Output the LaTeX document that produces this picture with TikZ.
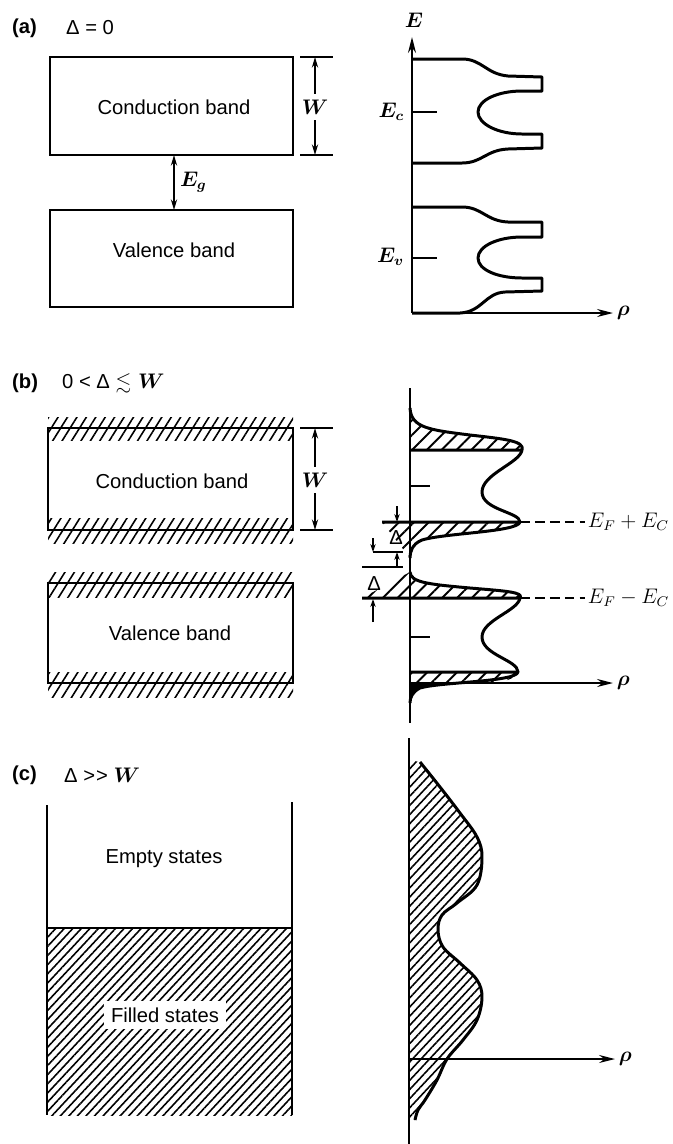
\documentclass[tikz,border=0pt]{standalone}
\usepackage{fontspec}
\setmainfont{Liberation Sans}
\usepackage{amssymb}
\usetikzlibrary{arrows.meta,patterns.meta}

\begin{document}
\begin{tikzpicture}[x=0.02cm, y=-0.02cm,
  font=\fontsize{11.5}{13}\selectfont,
  mlabel/.style={font=\fontsize{11.5}{13}\selectfont\boldmath},
  panel/.style={anchor=west, font=\fontsize{11.5}{13}\selectfont\bfseries},
  band/.style={line width=1.3pt},
  curve/.style={line width=1.7pt, line join=round},
  dimline/.style={line width=1pt},
  axis/.style={line width=1.3pt, -{Stealth[length=9pt,width=4.5pt]}},
  dimtip/.style={line width=1pt, -{Stealth[length=6pt,width=3.5pt]}},
  smalltip/.style={line width=1pt, -{Stealth[length=4.5pt,width=3pt]}},
  dimboth/.style={line width=1pt, {Stealth[length=6pt,width=3.5pt]}-{Stealth[length=6pt,width=3.5pt]}},
  edgehatch/.style={pattern={Lines[angle=58,distance=1.6mm,line width=0.9pt]}},
  doshatch/.style={pattern={Lines[angle=45,distance=2.1mm,line width=1.1pt]}},
  fillhatch/.style={pattern={Lines[angle=47,distance=1.25mm,line width=0.9pt]}},
  dashedline/.style={line width=1pt, dash pattern=on 5.5pt off 3pt}]
  \useasboundingbox (0,0) rectangle (673,1144);

  % ---------------- (a) Delta = 0 ----------------
  \node[panel] (labA) at (6,28) {(a)};
  \node[anchor=west] (condA) at (60,28) {Δ = 0};

  % Bands
  \draw[band] (50,57) rectangle (293,155);   % conduction band
  \draw[band] (50,210) rectangle (293,307);  % valence band
  \node (cbA) at (174,107) {Conduction band};
  \node (vbA) at (174,250) {Valence band};

  % Band width W
  \coordinate (wAt) at (315,57);
  \coordinate (wAb) at (315,155);
  \draw[dimline] (300,57) -- (333,57);
  \draw[dimline] (300,155) -- (333,155);
  \node[mlabel] (wA) at (315,107) {$W$};
  \draw[dimtip] (wA.north) -- (wAt);
  \draw[dimtip] (wA.south) -- (wAb);

  % Gap
  \coordinate (gAt) at (174,155);
  \coordinate (gAb) at (174,210);
  \draw[dimboth] (gAt) -- (gAb);
  \node[mlabel, right, inner sep=1pt] (egA) at (178,182) {$E_g$};

  % Density of states
  \coordinate (oA) at (412,313);
  \coordinate (eA) at (412,37);
  \coordinate (rA) at (613,313);
  \draw[axis] (oA) -- (eA);
  \draw[axis] (oA) -- (rA);
  \node[mlabel] (eLabA) at (414,20) {$E$};
  \node[mlabel, right, inner sep=2pt] (rhoA) at (rA) {$\rho$};
  \draw[curve] (412,59) -- (462,59) .. controls (482,59) and (486,74) .. (508,76) -- (542,77)
    -- (542,91) -- (522,91) .. controls (498,91) and (478,100) .. (478,112)
    .. controls (478,124) and (498,134) .. (522,134) -- (542,134) -- (542,148) -- (508,149)
    .. controls (486,150) and (482,163) .. (462,163) -- (412,163);
  \draw[curve] (412,207) -- (462,207) .. controls (482,207) and (486,221) .. (508,222) -- (542,222)
    -- (542,237) -- (522,237) .. controls (498,237) and (478,246) .. (478,258)
    .. controls (478,270) and (498,278) .. (522,278) -- (542,278) -- (542,291) -- (505,292)
    .. controls (485,293) and (482,312) .. (460,313) -- (412,313);
  \draw[band] (412,112) -- (437,112);  % E_c
  \draw[band] (412,258) -- (437,258);  % E_v
  \node[mlabel, left, inner sep=2pt] (ecA) at (408,112) {$E_c$};
  \node[mlabel, left, inner sep=2pt] (evA) at (408,257) {$E_v$};

  % ---------------- (b) 0 < Delta <~ W ----------------
  \node[panel] (labB) at (6,383) {(b)};
  \node[anchor=west] (condB) at (56,383) {0 < Δ {\boldmath$\lesssim W$}};

  % Smeared band edges
  \path[edgehatch] (48,417) rectangle (293,440);
  \path[edgehatch] (48,518) rectangle (293,543);
  \path[edgehatch] (48,572) rectangle (293,597);
  \path[edgehatch] (48,672) rectangle (293,697);
  \draw[band] (48,428) rectangle (293,530);  % conduction band
  \draw[band] (48,583) rectangle (293,683);  % valence band
  \node (cbB) at (172,481) {Conduction band};
  \node (vbB) at (170,633) {Valence band};

  % Band width W
  \coordinate (wBt) at (315,428);
  \coordinate (wBb) at (315,530);
  \draw[dimline] (300,428) -- (333,428);
  \draw[dimline] (300,530) -- (333,530);
  \node[mlabel] (wB) at (315,480) {$W$};
  \draw[dimtip] (wB.north) -- (wBt);
  \draw[dimtip] (wB.south) -- (wBb);

  % Density of states
  \coordinate (oB) at (410,683);
  \coordinate (rB) at (613,683);
  \draw[band] (410,388) -- (410,723);
  \draw[axis] (oB) -- (rB);
  \node[mlabel, right, inner sep=2pt] (rhoB) at (rB) {$\rho$};
  % filled tails
  \draw[curve, doshatch] (410,408) .. controls (411,428) and (430,430) .. (470,435)
    .. controls (505,439) and (525,441) .. (522,450) -- (410,450);
  \draw[curve, doshatch] (382,522) -- (520,522) .. controls (518,532) and (445,533) .. (422,540)
    .. controls (412,544) and (410,552) .. (410,558);
  \draw[curve, doshatch] (410,572) .. controls (411,582) and (425,584) .. (470,588)
    .. controls (505,591) and (524,592) .. (520,598) -- (362,598);
  \path[doshatch] (410,672) -- (518,672) .. controls (516,680) and (500,683) .. (480,683) -- (410,683) -- cycle;
  \fill (410,683) -- (480,683) .. controls (440,684) and (420,686) .. (414,692) -- (410,703) -- cycle;
  \draw[curve] (410,672) -- (518,672) .. controls (516,682) and (440,682) .. (420,688)
    .. controls (412,692) and (410,698) .. (410,703);
  % empty parts
  \draw[curve] (522,450) .. controls (520,463) and (482,474) .. (482,492)
    .. controls (482,510) and (520,512) .. (520,522);
  \draw[curve] (520,598) .. controls (518,611) and (482,620) .. (482,637)
    .. controls (482,655) and (518,660) .. (518,672);
  \draw[band] (410,486) -- (430,486);
  \draw[band] (410,637) -- (430,637);
  % Fermi levels
  \coordinate (fcB) at (585,522);
  \coordinate (fvB) at (585,598);
  \draw[dashedline] (520,522) -- (fcB);
  \draw[dashedline] (520,598) -- (fvB);
  \node[right, inner sep=1.5pt] (efcB) at (fcB) {$E_F + E_C$};
  \node[right, inner sep=1.5pt] (efvB) at (fvB) {$E_F - E_C$};
  % Delta marks
  \draw[dimline] (373,552) -- (403,552);
  \draw[dimline] (362,567) -- (403,567);
  \draw[smalltip] (397,506) -- (397,522);
  \draw[smalltip] (397,567) -- (397,552);
  \draw[smalltip] (373,538) -- (373,552);
  \draw[smalltip] (373,622) -- (373,599);
  \node[inner sep=1pt] (dB1) at (396,538) {Δ};
  \node[inner sep=1pt] (dB2) at (374,584) {Δ};

  % ---------------- (c) Delta >> W ----------------
  \node[panel] (labC) at (6,775) {(c)};
  \node[anchor=west] (condC) at (58,775) {Δ >\kern0.05em> {\boldmath$W$}};

  % Filled and empty states
  \path[fillhatch] (47,928) rectangle (292,1115);
  \draw[band] (47,805) -- (47,1115);
  \draw[band] (292,802) -- (292,1115);
  \draw[band] (47,928) -- (292,928);
  \node (esC) at (164,859) {Empty states};
  \node[fill=white, inner sep=4pt] (fsC) at (165,1015) {Filled states};

  % Density of states
  \coordinate (oC) at (409,1059);
  \coordinate (rC) at (615,1059);
  \path[fillhatch] (409,760) -- plot[smooth, tension=0.6] coordinates {(420,762) (440,787) (460,813) (477,837) (482,857)
    (477,885) (457,903) (442,915) (438,930) (443,947) (460,963) (477,980) (482,997)
    (477,1020) (463,1040) (447,1059) (437,1080) (425,1100) (418,1110) (415,1120)} -- (409,1120) -- cycle;
  \draw[curve] plot[smooth, tension=0.6] coordinates {(420,762) (440,787) (460,813) (477,837) (482,857)
    (477,885) (457,903) (442,915) (438,930) (443,947) (460,963) (477,980) (482,997)
    (477,1020) (463,1040) (447,1059) (437,1080) (425,1100) (418,1110) (415,1120)};
  \draw[band] (409,738) -- (409,1144);
  \draw[axis] (oC) -- (rC);
  \node[mlabel, right, inner sep=2pt] (rhoC) at (rC) {$\rho$};
\end{tikzpicture}
\end{document}
